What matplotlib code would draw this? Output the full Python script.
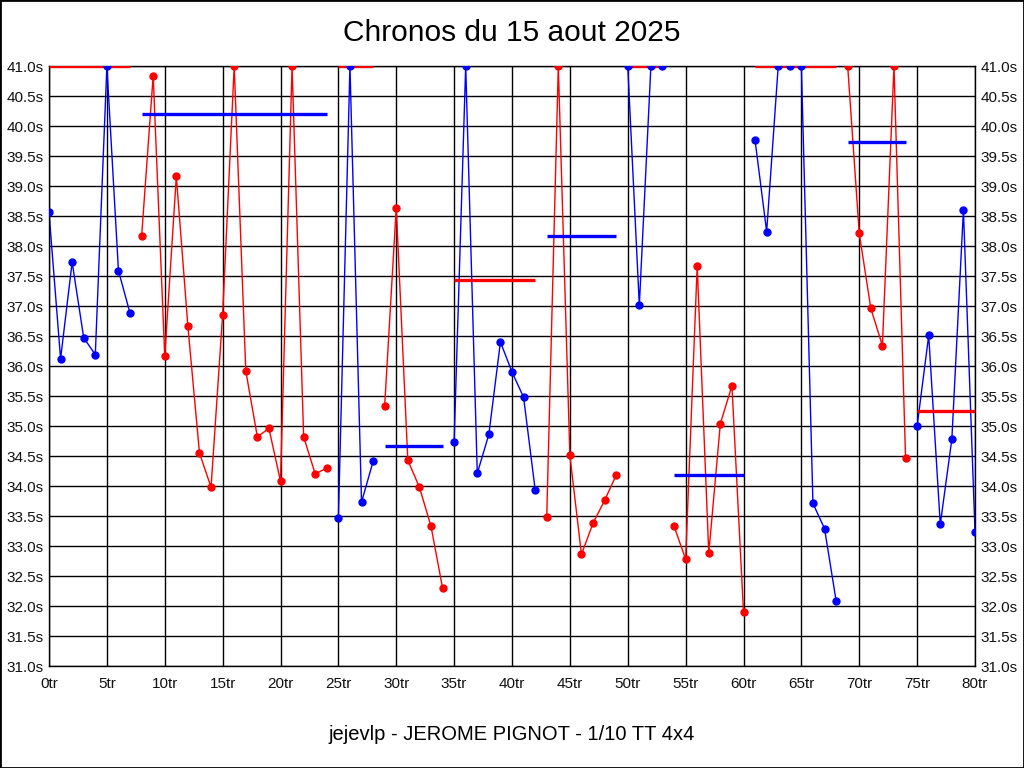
import matplotlib
matplotlib.use('Agg')
import matplotlib.pyplot as plt
from matplotlib.patches import Rectangle

# temps au tour (s), tour 0 a 80 - les valeurs a 41.0 sont plafonnees
laps = list(range(0, 81))
lap_times = [
    38.56, 36.12, 37.73, 36.47, 36.19, 41.0, 37.59, 36.88,
    38.16, 40.84, 36.16, 39.16, 36.66, 34.55, 33.98, 36.85, 41.0, 35.92,
    34.82, 34.96, 34.08, 41.0, 34.82, 34.20, 34.30,
    33.46, 41.0, 33.73, 34.41,
    35.34, 38.64, 34.43, 33.98, 33.33, 32.30,
    34.74, 41.0, 34.21, 34.86, 36.40, 35.90, 35.48, 33.94,
    33.48, 41.0, 34.51, 32.86, 33.38, 33.76, 34.18,
    41.0, 37.01, 41.0, 41.0,
    33.33, 32.78, 37.67, 32.88, 35.04, 35.67, 31.90,
    39.76, 38.24, 41.0, 41.0, 41.0, 33.71, 33.29, 32.09,
    41.0, 38.21, 36.96, 36.34, 41.0, 34.47,
    35.00, 36.51, 33.36, 34.78, 38.60, 33.24,
]

# debut / fin (inclus) de chaque relais
seg_start = [0, 8, 25, 29, 35, 43, 50, 54, 61, 69, 75]
seg_end = [7, 24, 28, 34, 42, 49, 53, 60, 68, 74, 80]
# moyenne de chaque relais
seg_avg = [41.0, 40.2, 41.0, 34.66, 37.43, 38.16, 41.0, 34.18, 41.0, 39.74, 35.25]

y_ticks = [31.0 + 0.5 * i for i in range(21)]
x_ticks = list(range(0, 81, 5))

plt.rcParams['font.family'] = ['Liberation Sans', 'DejaVu Sans']

fig = plt.figure(figsize=(10.24, 7.68), dpi=100)
ax = fig.add_axes([49 / 1024, 1 - 666 / 768, 926 / 1024, 600 / 768])

colors = ['#0000ff', '#ff0000']
for i in range(len(seg_start)):
    a, b = seg_start[i], seg_end[i]
    c = colors[i % 2]
    other = colors[(i + 1) % 2]
    xs = laps[a:b + 1]
    ys = lap_times[a:b + 1]
    ax.plot(xs, ys, color=c, lw=1.0, zorder=2)
    ax.plot([a, b], [seg_avg[i], seg_avg[i]], color=other, lw=2.4,
            solid_capstyle='butt', zorder=3)
    ax.plot(xs, ys, ls='none', marker='o', ms=5, color=c, zorder=4)

ax.set_xlim(0, 80)
ax.set_ylim(31, 41)
ax.set_xticks(x_ticks)
ax.set_xticklabels(['%dtr' % v for v in x_ticks])
ax.set_yticks(y_ticks)
ax.set_yticklabels(['%.1fs' % v for v in y_ticks])
ax.tick_params(axis='both', length=0, labelsize=11, colors='#111111')
ax.tick_params(axis='x', pad=8)
ax.tick_params(axis='y', pad=4, labelright=True)
ax.grid(True, color='black', lw=1.0)
ax.set_axisbelow(True)
for s in ax.spines.values():
    s.set_color('black')
    s.set_linewidth(1.0)

fig.text(0.5, 1 - 33 / 768, 'Chronos du 15 aout 2025', ha='center', va='center',
         fontsize=21.5)
fig.text(0.5, 1 - 735 / 768, 'jejevlp - JEROME PIGNOT - 1/10 TT 4x4',
         ha='center', va='center', fontsize=14.5)

# cadre autour de l'image
fig.add_artist(Rectangle((0, 0), 1, 1, transform=fig.transFigure, fill=False,
                         edgecolor='black', lw=2))

fig.savefig('out.png', dpi=100)
